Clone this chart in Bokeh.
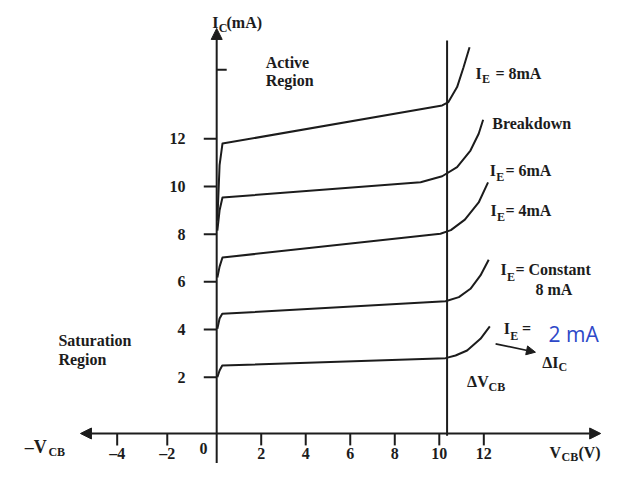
from bokeh.plotting import figure
from bokeh.models import Range1d, Arrow, NormalHead
from bokeh.core.properties import value
from bokeh.embed import file_html
from bokeh.resources import INLINE

# ---- data ----
# V_CB (V) and I_C (mA) for each emitter-current curve
vcb_8mA = [0.03, 0.13, 0.26, 10.13, 10.41, 10.80, 11.09, 11.36]
ic_8mA = [8.57, 10.90, 11.80, 13.40, 13.54, 14.17, 15.00, 15.84]

vcb_6mA = [0.03, 0.13, 0.26, 9.16, 10.13, 10.80, 11.40, 11.77, 11.97]
ic_6mA = [8.15, 9.00, 9.54, 10.18, 10.43, 10.81, 11.51, 12.21, 12.80]

vcb_4mA = [0.03, 0.13, 0.26, 10.05, 10.52, 11.15, 11.77, 12.19]
ic_4mA = [6.18, 6.64, 7.02, 8.02, 8.17, 8.61, 9.33, 10.17]

vcb_c8mA = [0.03, 0.13, 0.25, 10.28, 10.88, 11.40, 11.85, 12.22]
ic_c8mA = [4.03, 4.46, 4.66, 5.19, 5.36, 5.71, 6.27, 6.93]

vcb_2mA = [0.03, 0.13, 0.25, 10.28, 10.73, 11.25, 11.85, 12.27]
ic_2mA = [2.00, 2.28, 2.49, 2.80, 2.91, 3.12, 3.61, 4.13]

breakdown_vcb = 10.35

x_tick_pos = [-4.47, -2.22, 2, 4, 6, 8, 10, 12]
x_tick_labels = ["\u20134", "\u20132", "2", "4", "6", "8", "10", "12"]
y_tick_pos = [2, 4, 6, 8, 10, 12]
y_tick_labels = ["2", "4", "6", "8", "10", "12"]
y_extra_tick = [14.9]

# ---- figure ----
INK = "#1c1c1c"
FONT = value("Liberation Serif")

X0, X1 = -9.712, 17.332
Y0, Y1 = -1.619, 17.802

p = figure(width=602, height=463, output_backend="svg", toolbar_location=None,
           x_axis_location=None, y_axis_location=None,
           x_range=Range1d(X0, X1), y_range=Range1d(Y0, Y1),
           min_border=0, outline_line_color=None)
p.grid.visible = False

X_AXIS_Y = -0.36

# axes with arrowheads
p.add_layout(Arrow(x_start=-6.12, y_start=X_AXIS_Y, x_end=17.25, y_end=X_AXIS_Y,
                   start=NormalHead(size=11, fill_color=INK, line_color=INK),
                   end=NormalHead(size=11, fill_color=INK, line_color=INK),
                   line_width=2, line_color=INK))
p.add_layout(Arrow(x_start=0, y_start=Y0, x_end=0, y_end=16.63,
                   end=NormalHead(size=11, fill_color=INK, line_color=INK),
                   line_width=2, line_color=INK))

# ticks
p.segment(x0=x_tick_pos, y0=[X_AXIS_Y] * len(x_tick_pos),
          x1=x_tick_pos, y1=[X_AXIS_Y - 0.5] * len(x_tick_pos),
          line_width=2, line_color=INK)
p.segment(x0=[-0.58] * len(y_tick_pos), y0=y_tick_pos,
          x1=[0] * len(y_tick_pos), y1=y_tick_pos,
          line_width=2, line_color=INK)
p.segment(x0=[0] * len(y_extra_tick), y0=y_extra_tick,
          x1=[0.45] * len(y_extra_tick), y1=y_extra_tick,
          line_width=2, line_color=INK)

# tick labels
p.text(x=x_tick_pos, y=[-1.20] * len(x_tick_pos), text=x_tick_labels,
       text_font=FONT, text_font_style="bold", text_font_size="16px",
       text_align="center", text_baseline="middle", text_color=INK)
p.text(x=[-1.40] * len(y_tick_pos), y=y_tick_pos, text=y_tick_labels,
       text_font=FONT, text_font_style="bold", text_font_size="16px",
       text_align="right", text_baseline="middle", text_color=INK)
p.text(x=[-0.59], y=[-0.97], text=["0"],
       text_font=FONT, text_font_style="bold", text_font_size="16px",
       text_align="center", text_baseline="middle", text_color=INK)

# breakdown line
p.segment(x0=[breakdown_vcb], y0=[-0.45], x1=[breakdown_vcb], y1=[16.12],
          line_width=2, line_color=INK)

# characteristic curves
for xs, ys in [(vcb_8mA, ic_8mA), (vcb_6mA, ic_6mA), (vcb_4mA, ic_4mA),
               (vcb_c8mA, ic_c8mA), (vcb_2mA, ic_2mA)]:
    p.line(xs, ys, line_width=2, line_color=INK, line_join="round")


def label(x, y, s, size=16, color=INK, font=FONT, style="bold", align="left"):
    p.text(x=[x], y=[y], text=[s], text_font=font, text_font_style=style,
           text_font_size=f"{size}px", text_align=align,
           text_baseline="alphabetic", text_color=color)


def sub_label(x, y, main, sub, rest, x_sub, y_sub, x_rest, size=16, sub_size=12):
    label(x, y, main, size)
    label(x_sub, y_sub, sub, sub_size)
    if rest:
        label(x_rest, y, rest, size)


# axis titles
sub_label(-0.20, 16.90, "I", "C", "(mA)", 0.09, 16.63, 0.44)
sub_label(-8.62, -0.935, "\u2013V", "CB", "", -7.56, -1.15, 0, size=18)
sub_label(14.95, -1.16, "V", "CB", "(V)", 15.49, -1.33, 16.25)

# region labels
label(2.20, 15.21, "Active")
label(2.20, 14.45, "Region")
label(-7.11, 3.54, "Saturation")
label(-7.11, 2.73, "Region")
label(12.38, 12.66, "Breakdown")

# curve labels
sub_label(11.63, 14.75, "I", "E", "= 8mA", 11.92, 14.49, 12.52)
sub_label(12.27, 10.67, "I", "E", "= 6mA", 12.56, 10.39, 12.97)
sub_label(12.30, 8.99, "I", "E", "= 4mA", 12.59, 8.71, 12.97)
sub_label(12.75, 6.51, "I", "E", "= Constant", 13.04, 6.20, 13.42)
label(14.32, 5.67, "8 mA")
sub_label(12.90, 4.03, "I", "E", "=", 13.19, 3.75, 13.72)
label(14.91, 3.82, "2 mA", size=21, color="#2d48c8", font=value("Open Sans"),
      style="normal")

# delta annotations
p.add_layout(Arrow(x_start=12.53, y_start=3.40, x_end=14.32, y_end=3.05,
                   end=NormalHead(size=9, fill_color=INK, line_color=INK),
                   line_width=1.6, line_color=INK))
sub_label(14.62, 2.63, "\u0394I", "C", "", 15.36, 2.42, 0)
sub_label(11.25, 1.82, "\u0394V", "CB", "", 12.21, 1.58, 0)

open("out.html", "w").write(file_html(p, INLINE))
